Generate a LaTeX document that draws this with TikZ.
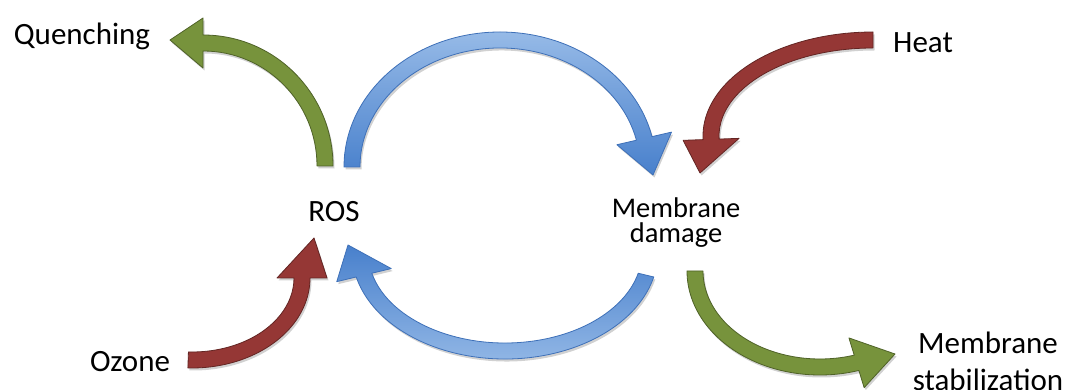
\documentclass[tikz,border=0pt]{standalone}
\usepackage{fontspec}
\setmainfont{Carlito}
\usetikzlibrary{calc,shadows}
\definecolor{gfill}{RGB}{119,147,60}
\definecolor{gline}{RGB}{79,98,40}
\definecolor{rfill}{RGB}{149,55,53}
\definecolor{rline}{RGB}{99,37,35}
\definecolor{blight}{RGB}{150,186,231}
\definecolor{bdark}{RGB}{72,128,204}
\definecolor{bline}{RGB}{62,112,184}
% #1 style, #2 centre, #3 rx, #4 ry, #5 start angle, #6 end angle, #7 tip, #8 half head width
\newcommand\blockarc[8]{%
  \path[#1] ($(#2)+(#5:{#3+8} and {#4+8})$)
    arc[start angle=#5, end angle=#6, x radius={#3+8}, y radius={#4+8}]
    -- ($(#2)+(#6:{#3+#8} and {#4+#8})$) -- (#7)
    -- ($(#2)+(#6:{#3-#8} and {#4-#8})$)
    -- ($(#2)+(#6:{#3-8} and {#4-8})$)
    arc[start angle=#6, end angle=#5, x radius={#3-8}, y radius={#4-8}] -- cycle;}
\begin{document}
\begin{tikzpicture}[x=1pt,y=1pt,
  lbl/.style={inner sep=0pt, anchor=base, font=\fontsize{31}{37}\selectfont},
  shd/.style={drop shadow={shadow xshift=1.5pt, shadow yshift=-2.5pt, opacity=0.18, fill=black}},
  greenarrow/.style={shd, fill=gfill, draw=gline, line width=0.8pt, line join=round},
  redarrow/.style={shd, fill=rfill, draw=rline, line width=0.8pt, line join=round},
  bluedown/.style={shd, top color=blight, bottom color=bdark, draw=bline, line width=0.8pt, line join=round},
  blueup/.style={shd, top color=bdark, bottom color=blight, draw=bline, line width=0.8pt, line join=round}]
\useasboundingbox (0,0) rectangle (1073,390);
\clip (0,0) rectangle (1073,390);
\fill[white] (0,0) rectangle (1073,390);

% labels
\node[lbl] (quench) at (82,345) {Quenching};
\node[lbl, anchor=base west] (heat) at (893,337) {Heat};
\node[lbl] (ros) at (334,168) {ROS};
\node[lbl, align=center, font=\fontsize{28.5}{25.5}\selectfont] (mdam) at (676,147) {Membrane\\damage};
\node[lbl] (ozone) at (130,18) {Ozone};
\node[lbl, align=center] (mstab) at (988,-1) {Membrane\\stabilization};

% arrow geometry
\coordinate (cq) at (203,224);  \coordinate (tq) at (170,350);
\coordinate (cbt) at (500,223); \coordinate (tbt) at (653,215);
\coordinate (ch) at (873,254);  \coordinate (th) at (700,217);
\coordinate (co) at (192,112);  \coordinate (to) at (314,152);
\coordinate (cbb) at (505,138); \coordinate (tbb) at (348,145);
\coordinate (cs) at (820,119);  \coordinate (ts) at (895,36);

% arrows
\blockarc{greenarrow}{cq}{122}{123}{0}{90}{tq}{25}
\blockarc{bluedown}{cbt}{148}{127}{180}{13}{tbt}{28}
\blockarc{redarrow}{ch}{162}{96}{90}{182}{th}{28}
\blockarc{redarrow}{co}{110}{82}{-92}{0}{to}{25}
\blockarc{blueup}{cbb}{145}{99}{-13.5}{-166.5}{tbb}{28}
\blockarc{greenarrow}{cs}{125}{96}{180}{287}{ts}{26}
\end{tikzpicture}
\end{document}
